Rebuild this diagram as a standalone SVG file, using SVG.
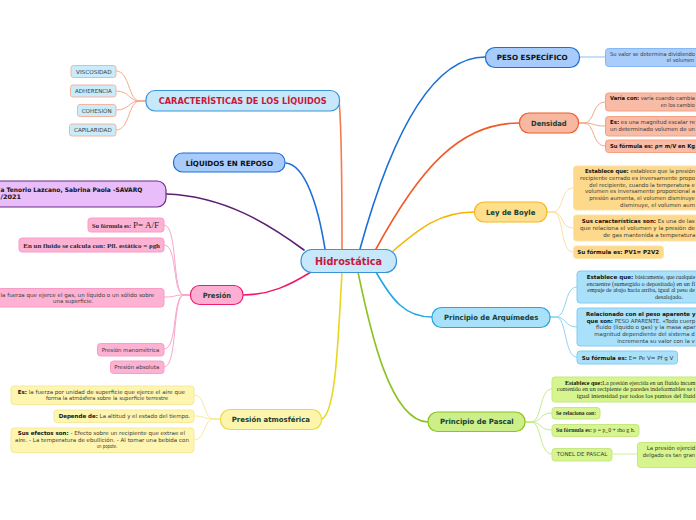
<svg xmlns="http://www.w3.org/2000/svg" width="696" height="520" viewBox="0 0 696 520">
<style>
.n{font-family:"DejaVu Sans","Liberation Sans",sans-serif;font-weight:bold;font-size:7.2px;fill:#173f35}
.c{font-family:"DejaVu Sans","Liberation Sans",sans-serif;font-size:5.5px;fill:#3a3a3a}
.s{font-family:"Liberation Serif","DejaVu Serif",serif;font-size:5.6px;fill:#2a2a2a}
.b{font-weight:bold;fill:#111}
.main{fill:none;stroke-width:1.6;stroke-linecap:round}
.sub{fill:none;stroke-width:1}
</style>
<rect width="696" height="520" fill="#ffffff"/>
<g id="connectors">
  <path class="main" d="M342,249 C342,190 341,120 339,101" stroke="#f47a50"/>
  <path class="main" d="M325,249 C318,205 305,165 286,163" stroke="#1e6fd9"/>
  <path class="main" d="M304,250 C270,225 225,196 166,194" stroke="#5c1f72"/>
  <path class="main" d="M311,272 C290,285 270,295 243,295" stroke="#ef1a6c"/>
  <path class="main" d="M342,272 C338,340 336,412 322,419" stroke="#e8d61e"/>
  <path class="main" d="M358,272 C370,330 390,421 428,422" stroke="#8cc21e"/>
  <path class="main" d="M376,272 C392,300 405,317 432,317" stroke="#22a8e4"/>
  <path class="main" d="M393,251 C420,228 440,212 474,212" stroke="#f6b400"/>
  <path class="main" d="M376,249 C420,168 460,123 519,123" stroke="#f05a28"/>
  <path class="main" d="M360,249 C390,140 430,57 485,57" stroke="#1a6fd4"/>
  <g stroke="#f8a98f" class="sub">
    <path d="M146,101 L140,101 C128,101 130,71 116,71"/>
    <path d="M146,101 L140,101 C128,101 130,91 116,91"/>
    <path d="M146,101 L140,101 C128,101 130,110 116,110"/>
    <path d="M146,101 L140,101 C128,101 130,130 116,130"/>
  </g>
  <g stroke="#f9a6cb" class="sub">
    <path d="M190,295 L184,295 C172,295 178,225 164,225"/>
    <path d="M190,295 L184,295 C172,295 178,245 164,245"/>
    <path d="M190,295 L184,295 C172,295 178,297 164,297"/>
    <path d="M190,295 L184,295 C172,295 178,349 164,349"/>
    <path d="M190,295 L184,295 C172,295 178,367 164,367"/>
  </g>
  <g stroke="#f6ea9a" class="sub">
    <path d="M220,419 L214,419 C203,419 206,395 194,395"/>
    <path d="M220,419 L214,419 C203,419 206,416 194,416"/>
    <path d="M220,419 L214,419 C203,419 206,440 194,440"/>
  </g>
  <path class="sub" d="M579,57 L605,57" stroke="#8fbcf4"/>
  <g stroke="#f7a78a" class="sub">
    <path d="M578,123 L584,123 C595,123 592,102 605,102"/>
    <path d="M578,123 L584,123 C595,123 592,126 605,126"/>
    <path d="M578,123 L584,123 C595,123 592,146 605,146"/>
  </g>
  <g stroke="#fde0a0" class="sub">
    <path d="M547,212 L553,212 C564,212 560,188 573,188"/>
    <path d="M547,212 L553,212 C564,212 560,228 573,228"/>
    <path d="M547,212 L553,212 C564,212 560,252 573,252"/>
  </g>
  <g stroke="#8fd3f2" class="sub">
    <path d="M550,317 L556,317 C567,317 564,287 577,287"/>
    <path d="M550,317 L556,317 C567,317 564,327 577,327"/>
    <path d="M550,317 L556,317 C567,317 564,357 577,357"/>
  </g>
  <g stroke="#c8ea8a" class="sub">
    <path d="M525,422 L531,422 C542,422 539,389 552,389"/>
    <path d="M525,422 L531,422 C542,422 539,413 552,413"/>
    <path d="M525,422 L531,422 C542,422 539,430 552,430"/>
    <path d="M525,422 L531,422 C542,422 539,454 552,454"/>
  </g>
  <path class="sub" d="M612,454 L637,454" stroke="#d4ef9a"/>
</g>

<g id="hidrostatica">
  <rect x="301" y="249.5" width="95.5" height="23" rx="11" fill="#c6e8fa" stroke="#3c94d6" stroke-width="1.2"/>
  <text x="315" y="265" class="n" style="font-size:11px;fill:#c8193c" textLength="67" lengthAdjust="spacingAndGlyphs">Hidrostática</text>
</g>

<g id="caracteristicas">
  <rect x="146" y="90.5" width="193.5" height="20.5" rx="9" fill="#c6e8fa" stroke="#3c94d6" stroke-width="1.2"/>
  <text x="158.7" y="103.5" class="n" style="font-size:8.3px;fill:#c8193c" textLength="168" lengthAdjust="spacingAndGlyphs">CARACTERÍSTICAS DE LOS LÍQUIDOS</text>
</g>
<g id="viscosidad">
  <rect x="71" y="65.5" width="45" height="12" rx="2.5" fill="#c8ecfa" stroke="#f6b3a0"/>
  <text x="76" y="74" class="c" textLength="35.7" lengthAdjust="spacingAndGlyphs">VISCOSIDAD</text>
</g>
<g id="adherencia">
  <rect x="70.5" y="85" width="45.5" height="12" rx="2.5" fill="#c8ecfa" stroke="#f6b3a0"/>
  <text x="75" y="93.3" class="c" textLength="36.7" lengthAdjust="spacingAndGlyphs">ADHERENCIA</text>
</g>
<g id="cohesion">
  <rect x="77.5" y="104.5" width="38.5" height="12" rx="2.5" fill="#c8ecfa" stroke="#f6b3a0"/>
  <text x="81.7" y="112.7" class="c" textLength="30" lengthAdjust="spacingAndGlyphs">COHESIÓN</text>
</g>
<g id="capilaridad">
  <rect x="69.5" y="124" width="46.5" height="12" rx="2.5" fill="#c8ecfa" stroke="#f6b3a0"/>
  <text x="74" y="132" class="c" textLength="37.7" lengthAdjust="spacingAndGlyphs">CAPILARIDAD</text>
</g>

<g id="liquidos-reposo">
  <rect x="173.5" y="153" width="111.5" height="19" rx="9" fill="#a7cbfa" stroke="#1d6fd6" stroke-width="1.2"/>
  <text x="185.7" y="165.7" class="n" style="fill:#111" textLength="87.3" lengthAdjust="spacingAndGlyphs">LÍQUIDOS EN REPOSO</text>
</g>

<g id="autor">
  <rect x="-20" y="181" width="186" height="26" rx="9" fill="#e9bdfa" stroke="#6a2c86" stroke-width="1.2"/>
  <text x="0.5" y="191.7" class="n" style="font-size:6.2px;fill:#111" textLength="141.8" lengthAdjust="spacingAndGlyphs">a Tenorio Lazcano, Sabrina Paola -SAVARQ</text>
  <text x="0.5" y="199.3" class="n" style="font-size:6.2px;fill:#111" textLength="20.5" lengthAdjust="spacingAndGlyphs">/2021</text>
</g>

<g id="presion">
  <rect x="190.5" y="285.5" width="52.5" height="19" rx="9" fill="#fdaed2" stroke="#ec1c6e" stroke-width="1.2"/>
  <text x="202.7" y="297.7" class="n" textLength="28.3" lengthAdjust="spacingAndGlyphs">Presión</text>
</g>
<g id="presion-formula">
  <rect x="88" y="218" width="76" height="14" rx="3" fill="#fdb2d4" stroke="#f99cc6"/>
  <text x="92" y="228" class="s" textLength="67" lengthAdjust="spacingAndGlyphs"><tspan font-weight="bold">Su fórmula es: </tspan><tspan style="font-size:8px">P= A/F</tspan></text>
</g>
<g id="presion-fluido">
  <rect x="19" y="238" width="145" height="14" rx="3" fill="#fdb2d4" stroke="#f99cc6"/>
  <text x="23.3" y="247.7" class="s" font-weight="bold" textLength="136.7" lengthAdjust="spacingAndGlyphs">En un fluido se calcula con: Pfl. estático = ρgh</text>
</g>
<g id="presion-def">
  <rect x="-20" y="288.5" width="184" height="18.5" rx="3" fill="#fdb2d4" stroke="#f99cc6"/>
  <text x="0.5" y="296.7" class="c" textLength="153.8" lengthAdjust="spacingAndGlyphs">la fuerza que ejerce el gas, un líquido o un sólido sobre</text>
  <text x="53" y="302.5" class="c" textLength="40.3" lengthAdjust="spacingAndGlyphs">una superficie.</text>
</g>
<g id="presion-manometrica">
  <rect x="97.5" y="343.5" width="66.5" height="12.5" rx="3" fill="#fdb2d4" stroke="#f99cc6"/>
  <text x="101.7" y="351.7" class="c" textLength="57.6" lengthAdjust="spacingAndGlyphs">Presión manométrica</text>
</g>
<g id="presion-absoluta">
  <rect x="110.5" y="361" width="53.5" height="12.5" rx="3" fill="#fdb2d4" stroke="#f99cc6"/>
  <text x="114.3" y="369.2" class="c" textLength="45" lengthAdjust="spacingAndGlyphs">Presión absoluta</text>
</g>

<g id="presion-atmosferica">
  <rect x="220.5" y="409.5" width="101" height="20" rx="9.5" fill="#fef5ad" stroke="#ecd93c" stroke-width="1.2"/>
  <text x="231.7" y="421.9" class="n" textLength="78.3" lengthAdjust="spacingAndGlyphs">Presión atmosférica</text>
</g>
<g id="atm-es">
  <rect x="11" y="386" width="183" height="18.5" rx="3" fill="#fef5b0" stroke="#f5ea98"/>
  <text x="17.7" y="394" class="c" textLength="167.3" lengthAdjust="spacingAndGlyphs"><tspan class="b">Es:</tspan>  la fuerza por unidad de superficie que ejerce el aire que</text>
  <text x="46" y="400.2" class="c" textLength="122.3" lengthAdjust="spacingAndGlyphs">forma la atmósfera sobre la superficie terrestre</text>
</g>
<g id="atm-depende">
  <rect x="54" y="410" width="140" height="12.5" rx="3" fill="#fef5b0" stroke="#f5ea98"/>
  <text x="58.7" y="417.9" class="c" textLength="131.3" lengthAdjust="spacingAndGlyphs"><tspan class="b">Depende de:</tspan> La altitud y el estado del tiempo.</text>
</g>
<g id="atm-efectos">
  <rect x="11" y="428" width="183" height="24.5" rx="3" fill="#fef5b0" stroke="#f5ea98"/>
  <text x="17.7" y="434.9" class="c" textLength="167.3" lengthAdjust="spacingAndGlyphs"><tspan class="b">Sus efectos son:</tspan> - Efecto sobre un recipiente que extrae el</text>
  <text x="15" y="441.7" class="c" textLength="174" lengthAdjust="spacingAndGlyphs">aire. - La temperatura de ebullición. - Al tomar una bebida con</text>
  <text x="96.7" y="448.4" class="c" textLength="20.6" lengthAdjust="spacingAndGlyphs">un popote.</text>
</g>

<g id="peso-especifico">
  <rect x="485.5" y="47.5" width="94" height="20" rx="9.5" fill="#a7cbfa" stroke="#1d6fd6" stroke-width="1.2"/>
  <text x="496.7" y="60" class="n" style="fill:#111" textLength="71" lengthAdjust="spacingAndGlyphs">PESO ESPECÍFICO</text>
</g>
<g id="peso-valor">
  <rect x="605.5" y="48.5" width="110" height="18" rx="3" fill="#a9cdfa" stroke="#86b8f5"/>
  <text x="610" y="55.7" class="c" textLength="85" lengthAdjust="spacingAndGlyphs">Su valor se determina dividiendo</text>
  <text x="666.7" y="61.9" class="c" textLength="27.5" lengthAdjust="spacingAndGlyphs">el volumen</text>
</g>

<g id="densidad">
  <rect x="519.5" y="113" width="59" height="20" rx="9.5" fill="#f8b7a0" stroke="#f05c2a" stroke-width="1.2"/>
  <text x="531" y="125.8" class="n" textLength="35.7" lengthAdjust="spacingAndGlyphs">Densidad</text>
</g>
<g id="densidad-varia">
  <rect x="605.5" y="93" width="110" height="18" rx="3" fill="#f8bba6" stroke="#f4a282"/>
  <text x="610" y="100" class="c" textLength="85" lengthAdjust="spacingAndGlyphs"><tspan class="b">Varía con:</tspan> varía cuando cambia</text>
  <text x="660.7" y="106.7" class="c" textLength="34" lengthAdjust="spacingAndGlyphs">en los cambio</text>
</g>
<g id="densidad-es">
  <rect x="605.5" y="116.5" width="110" height="19.5" rx="3" fill="#f8bba6" stroke="#f4a282"/>
  <text x="610" y="124" class="c" textLength="85" lengthAdjust="spacingAndGlyphs"><tspan class="b">Es:</tspan> es una magnitud escalar re</text>
  <text x="610" y="130.7" class="c" textLength="85" lengthAdjust="spacingAndGlyphs">un determinado volumen de un</text>
</g>
<g id="densidad-formula">
  <rect x="605.5" y="140" width="110" height="12.5" rx="3" fill="#f8bba6" stroke="#f4a282"/>
  <text x="610" y="148.3" class="c b" textLength="85" lengthAdjust="spacingAndGlyphs">Su fórmula es: ρ=  m/V en Kg</text>
</g>

<g id="ley-boyle">
  <rect x="474.5" y="202" width="72.5" height="20" rx="9.5" fill="#fddf8c" stroke="#f7b722" stroke-width="1.2"/>
  <text x="486" y="214.5" class="n" textLength="49.3" lengthAdjust="spacingAndGlyphs">Ley de Boyle</text>
</g>
<g id="boyle-establece">
  <rect x="573.5" y="166" width="140" height="44" rx="3" fill="#fdd98b" stroke="#fde3a6"/>
  <text x="585" y="173.3" class="c" textLength="110" lengthAdjust="spacingAndGlyphs"><tspan class="b">Establece que:</tspan> establece que la presión</text>
  <text x="580" y="180" class="c" textLength="115" lengthAdjust="spacingAndGlyphs">recipiente cerrado es inversamente propo</text>
  <text x="589.3" y="186.7" class="c" textLength="105.5" lengthAdjust="spacingAndGlyphs">del recipiente, cuando la temperatura e</text>
  <text x="585" y="193.3" class="c" textLength="110" lengthAdjust="spacingAndGlyphs">volumen es inversamente proporcional a</text>
  <text x="589.3" y="200" class="c" textLength="105.5" lengthAdjust="spacingAndGlyphs">presión aumenta, el volumen disminuye</text>
  <text x="620" y="206.7" class="c" textLength="75" lengthAdjust="spacingAndGlyphs">disminuye, el volumen aum</text>
</g>
<g id="boyle-caracteristicas">
  <rect x="573.5" y="215" width="140" height="26" rx="3" fill="#fdd98b" stroke="#fde3a6"/>
  <text x="581.7" y="223.3" class="c" textLength="113" lengthAdjust="spacingAndGlyphs"><tspan class="b">Sus características son:</tspan> Es una de las</text>
  <text x="580" y="230" class="c" textLength="115" lengthAdjust="spacingAndGlyphs">que relaciona el volumen y la presión de</text>
  <text x="603.3" y="236.7" class="c" textLength="92" lengthAdjust="spacingAndGlyphs">de gas mantenida a temperatura</text>
</g>
<g id="boyle-formula">
  <rect x="573.5" y="246" width="90" height="12.5" rx="3" fill="#fdd98b" stroke="#fde3a6"/>
  <text x="577.3" y="254.3" class="c b" textLength="81.7" lengthAdjust="spacingAndGlyphs">Su fórmula es: PV1= P2V2</text>
</g>

<g id="arquimedes">
  <rect x="432" y="307.5" width="118" height="20" rx="9.5" fill="#a9e1fa" stroke="#24a6e2" stroke-width="1.2"/>
  <text x="444" y="319.5" class="n" textLength="94.3" lengthAdjust="spacingAndGlyphs">Principio de Arquímedes</text>
</g>
<g id="arq-establece">
  <rect x="577" y="271" width="140" height="32" rx="3" fill="#a9e1fa" stroke="#84cbef"/>
  <text x="586.7" y="279" class="c" textLength="108.5" lengthAdjust="spacingAndGlyphs"><tspan class="b">Establece que:</tspan> <tspan class="s">básicamente, que cualquie</tspan></text>
  <text x="586.7" y="285.7" class="s" textLength="108.5" lengthAdjust="spacingAndGlyphs">encuentre (sumergido o depositado) en un fl</text>
  <text x="587.3" y="292" class="s" textLength="107.5" lengthAdjust="spacingAndGlyphs">empuje de abajo hacia arriba, igual al peso de</text>
  <text x="655" y="298.5" class="s" textLength="28" lengthAdjust="spacingAndGlyphs">desalojado.</text>
</g>
<g id="arq-relacionado">
  <rect x="577" y="308" width="140" height="38" rx="3" fill="#a9e1fa" stroke="#84cbef"/>
  <text x="586" y="316" class="c b" textLength="109.5" lengthAdjust="spacingAndGlyphs">Relacionado con el peso aparente y</text>
  <text x="586.7" y="322.7" class="c" textLength="108.5" lengthAdjust="spacingAndGlyphs"><tspan class="b">que son:</tspan> PESO APARENTE. «Todo cuerp</text>
  <text x="596" y="329.3" class="c" textLength="99.5" lengthAdjust="spacingAndGlyphs">fluido (líquido o gas) y la  masa apar</text>
  <text x="594.3" y="336" class="c" textLength="100.5" lengthAdjust="spacingAndGlyphs">magnitud dependiente del sistema d</text>
  <text x="617.3" y="342.8" class="c" textLength="77.5" lengthAdjust="spacingAndGlyphs">incrementa su valor con la v</text>
</g>
<g id="arq-formula">
  <rect x="577" y="351" width="100.5" height="13" rx="3" fill="#a9e1fa" stroke="#84cbef"/>
  <text x="581.7" y="359.5" class="c" textLength="91.6" lengthAdjust="spacingAndGlyphs"><tspan class="b">Su fórmula es:</tspan>  E= Pe V= Pf g V</text>
</g>

<g id="pascal">
  <rect x="428" y="412" width="97" height="19.5" rx="9.5" fill="#ccef8a" stroke="#8cc31f" stroke-width="1.2"/>
  <text x="440" y="424.4" class="n" textLength="73.7" lengthAdjust="spacingAndGlyphs">Principio de Pascal</text>
</g>
<g id="pascal-establece">
  <rect x="552" y="377" width="160" height="25" rx="3" fill="#d6f58e" stroke="#c5e882"/>
  <text x="565" y="385" class="s" textLength="130.5" lengthAdjust="spacingAndGlyphs"><tspan font-weight="bold" fill="#111">Establece que:</tspan>La presión ejercida en un fluido incom</text>
  <text x="556.7" y="391.2" class="s" textLength="138.5" lengthAdjust="spacingAndGlyphs">contenido en un recipiente de paredes indeformables se t</text>
  <text x="576.7" y="397.5" class="s" textLength="118.5" lengthAdjust="spacingAndGlyphs">igual intensidad por todos los puntos del fluid</text>
</g>
<g id="pascal-relaciona">
  <rect x="552" y="407.5" width="48" height="11.5" rx="3" fill="#d6f58e" stroke="#c5e882"/>
  <text x="556" y="414.5" class="s" font-weight="bold" textLength="40" lengthAdjust="spacingAndGlyphs">Se relaciona con:</text>
</g>
<g id="pascal-formula">
  <rect x="552" y="424.5" width="87" height="12" rx="3" fill="#d6f58e" stroke="#c5e882"/>
  <text x="556" y="432" class="s" textLength="79" lengthAdjust="spacingAndGlyphs"><tspan font-weight="bold">Su fórmula es:</tspan> p = p_0 + rho g h.</text>
</g>
<g id="tonel">
  <rect x="552" y="448.5" width="60" height="12.5" rx="3" fill="#d6f58e" stroke="#c5e882"/>
  <text x="556.7" y="456.3" class="c" textLength="50.6" lengthAdjust="spacingAndGlyphs">TONEL DE PASCAL</text>
</g>
<g id="tonel-detalle">
  <rect x="637.5" y="442.5" width="80" height="25" rx="3" fill="#d6f58e" stroke="#c5e882"/>
  <text x="646.7" y="450.2" class="c" textLength="48.5" lengthAdjust="spacingAndGlyphs">La presión ejercid</text>
  <text x="642.7" y="456.5" class="c" textLength="52.5" lengthAdjust="spacingAndGlyphs">delgado es tan gran</text>
</g>
</svg>
